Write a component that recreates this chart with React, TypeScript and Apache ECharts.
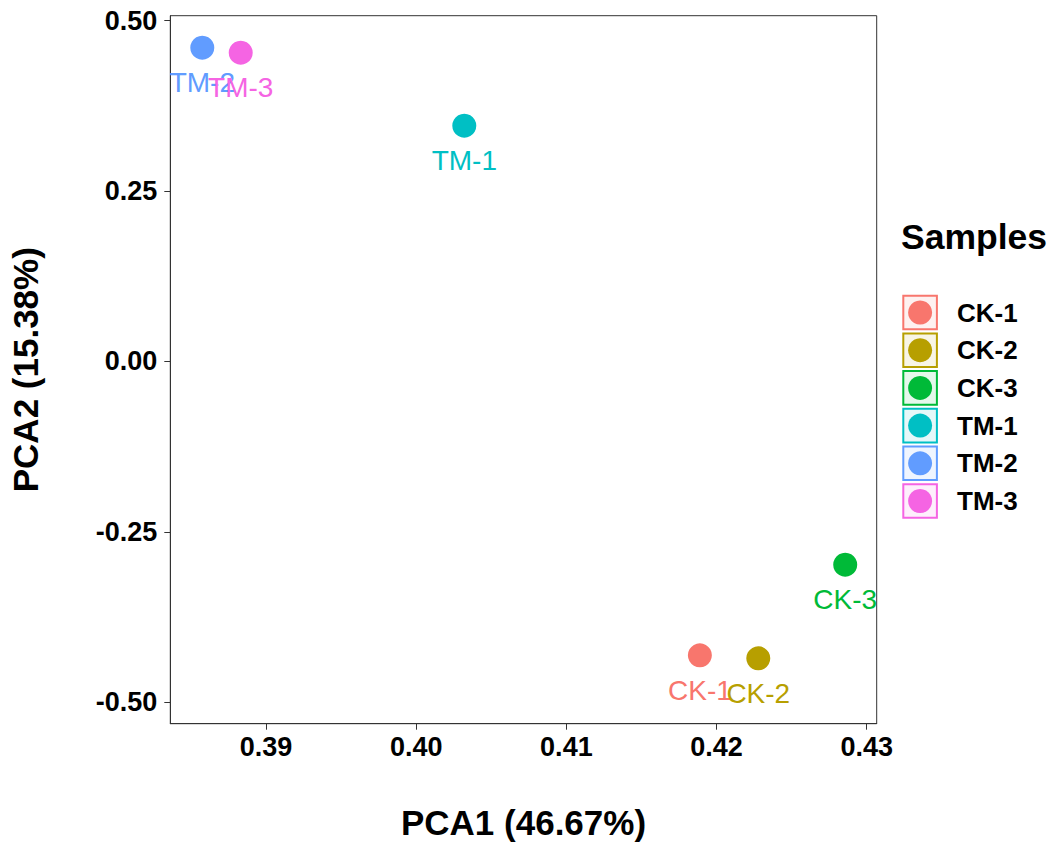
import React, { useEffect, useRef } from "react";
import * as echarts from "echarts";

const sampleNames = ["CK-1", "CK-2", "CK-3", "TM-1", "TM-2", "TM-3"];
const sampleColors = ["#F8766D", "#B79F00", "#00BA38", "#00BFC4", "#619CFF", "#F564E3"];
const pca1Values = [0.41889, 0.42278, 0.42857, 0.4032, 0.38575, 0.38831];
const pca2Values = [-0.4311, -0.4355, -0.2981, 0.3459, 0.4604, 0.4531];
const xTicks = [0.39, 0.4, 0.41, 0.42, 0.43];
const yTicks = [-0.5, -0.25, 0, 0.25, 0.5];
const xAxisTitle = "PCA1 (46.67%)";
const yAxisTitle = "PCA2 (15.38%)";
const legendTitle = "Samples";

const FONT = "'Liberation Sans', Arial, Helvetica, sans-serif";

function hexAlpha(hex: string, a: number) {
  const r = parseInt(hex.slice(1, 3), 16);
  const g = parseInt(hex.slice(3, 5), 16);
  const b = parseInt(hex.slice(5, 7), 16);
  return `rgba(${r},${g},${b},${a})`;
}

export default function App() {
  const ref = useRef<HTMLDivElement>(null);
  useEffect(() => {
    document.body.style.margin = "0";
    if (!ref.current) return;
    const chart = echarts.init(ref.current, undefined, { renderer: "svg" });

    const gridLeft = 170.3;
    const gridTop = 15.7;
    const gridWidth = 706.4;
    const gridHeight = 708;

    const legendGraphics: any[] = [];
    legendGraphics.push({
      type: "text",
      left: 901,
      top: 219,
      style: { text: legendTitle, font: `bold 35.5px ${FONT}`, fill: "#000" },
    });
    const rowStart = 312.5;
    const rowStep = 37.7;
    sampleNames.forEach((name, i) => {
      const cy = rowStart + i * rowStep;
      legendGraphics.push({
        type: "rect",
        shape: { x: 903.3, y: cy - 16.8, width: 33.6, height: 33.6 },
        style: { fill: hexAlpha(sampleColors[i], 0.1), stroke: sampleColors[i], lineWidth: 2 },
      });
      legendGraphics.push({
        type: "circle",
        shape: { cx: 920.1, cy: cy, r: 12 },
        style: { fill: sampleColors[i] },
      });
      legendGraphics.push({
        type: "text",
        x: 957,
        y: cy,
        style: {
          text: name,
          font: `bold 26px ${FONT}`,
          fill: "#000",
          textVerticalAlign: "middle",
          verticalAlign: "middle",
        },
      });
    });

    const axisTextStyle = {
      color: "#000",
      fontSize: 27,
      fontWeight: "bold" as const,
      fontFamily: FONT,
    };

    chart.setOption({
      animation: false,
      backgroundColor: "#fff",
      grid: {
        left: gridLeft,
        top: gridTop,
        width: gridWidth,
        height: gridHeight,
        show: true,
        borderColor: "#333333",
        borderWidth: 1,
        backgroundColor: "#fff",
      },
      xAxis: {
        type: "value",
        min: 0.38362,
        max: 0.430667,
        name: xAxisTitle,
        nameLocation: "middle",
        nameGap: 81,
        nameTextStyle: { color: "#000", fontSize: 35, fontWeight: "bold", fontFamily: FONT },
        axisLine: { show: true, onZero: false, lineStyle: { color: "#333333", width: 1 } },
        splitLine: { show: false },
        axisTick: { show: true, length: 6, lineStyle: { color: "#333333" }, customValues: xTicks },
        axisLabel: {
          ...axisTextStyle,
          margin: 10,
          customValues: xTicks,
          formatter: (v: number) => v.toFixed(2),
        },
      },
      yAxis: {
        type: "value",
        min: -0.5314,
        max: 0.5073,
        name: yAxisTitle,
        nameLocation: "middle",
        nameGap: 127,
        nameRotate: 90,
        nameTextStyle: { color: "#000", fontSize: 35, fontWeight: "bold", fontFamily: FONT },
        axisLine: { show: true, onZero: false, lineStyle: { color: "#333333", width: 1 } },
        splitLine: { show: false },
        axisTick: { show: true, length: 6, lineStyle: { color: "#333333" }, customValues: yTicks },
        axisLabel: {
          ...axisTextStyle,
          margin: 13,
          customValues: yTicks,
          formatter: (v: number) => v.toFixed(2),
        },
      },
      series: sampleNames.map((name, i) => ({
        type: "scatter",
        name,
        symbol: "circle",
        symbolSize: 24,
        itemStyle: { color: sampleColors[i], opacity: 1 },
        data: [[pca1Values[i], pca2Values[i]]],
        label: {
          show: true,
          position: "inside",
          offset: [0, 35],
          formatter: name,
          color: sampleColors[i],
          fontSize: 28,
          fontFamily: FONT,
        },
      })),
      graphic: legendGraphics,
    });
    return () => chart.dispose();
  }, []);
  return <div ref={ref} style={{ width: "1056px", height: "847px" }} />;
}
